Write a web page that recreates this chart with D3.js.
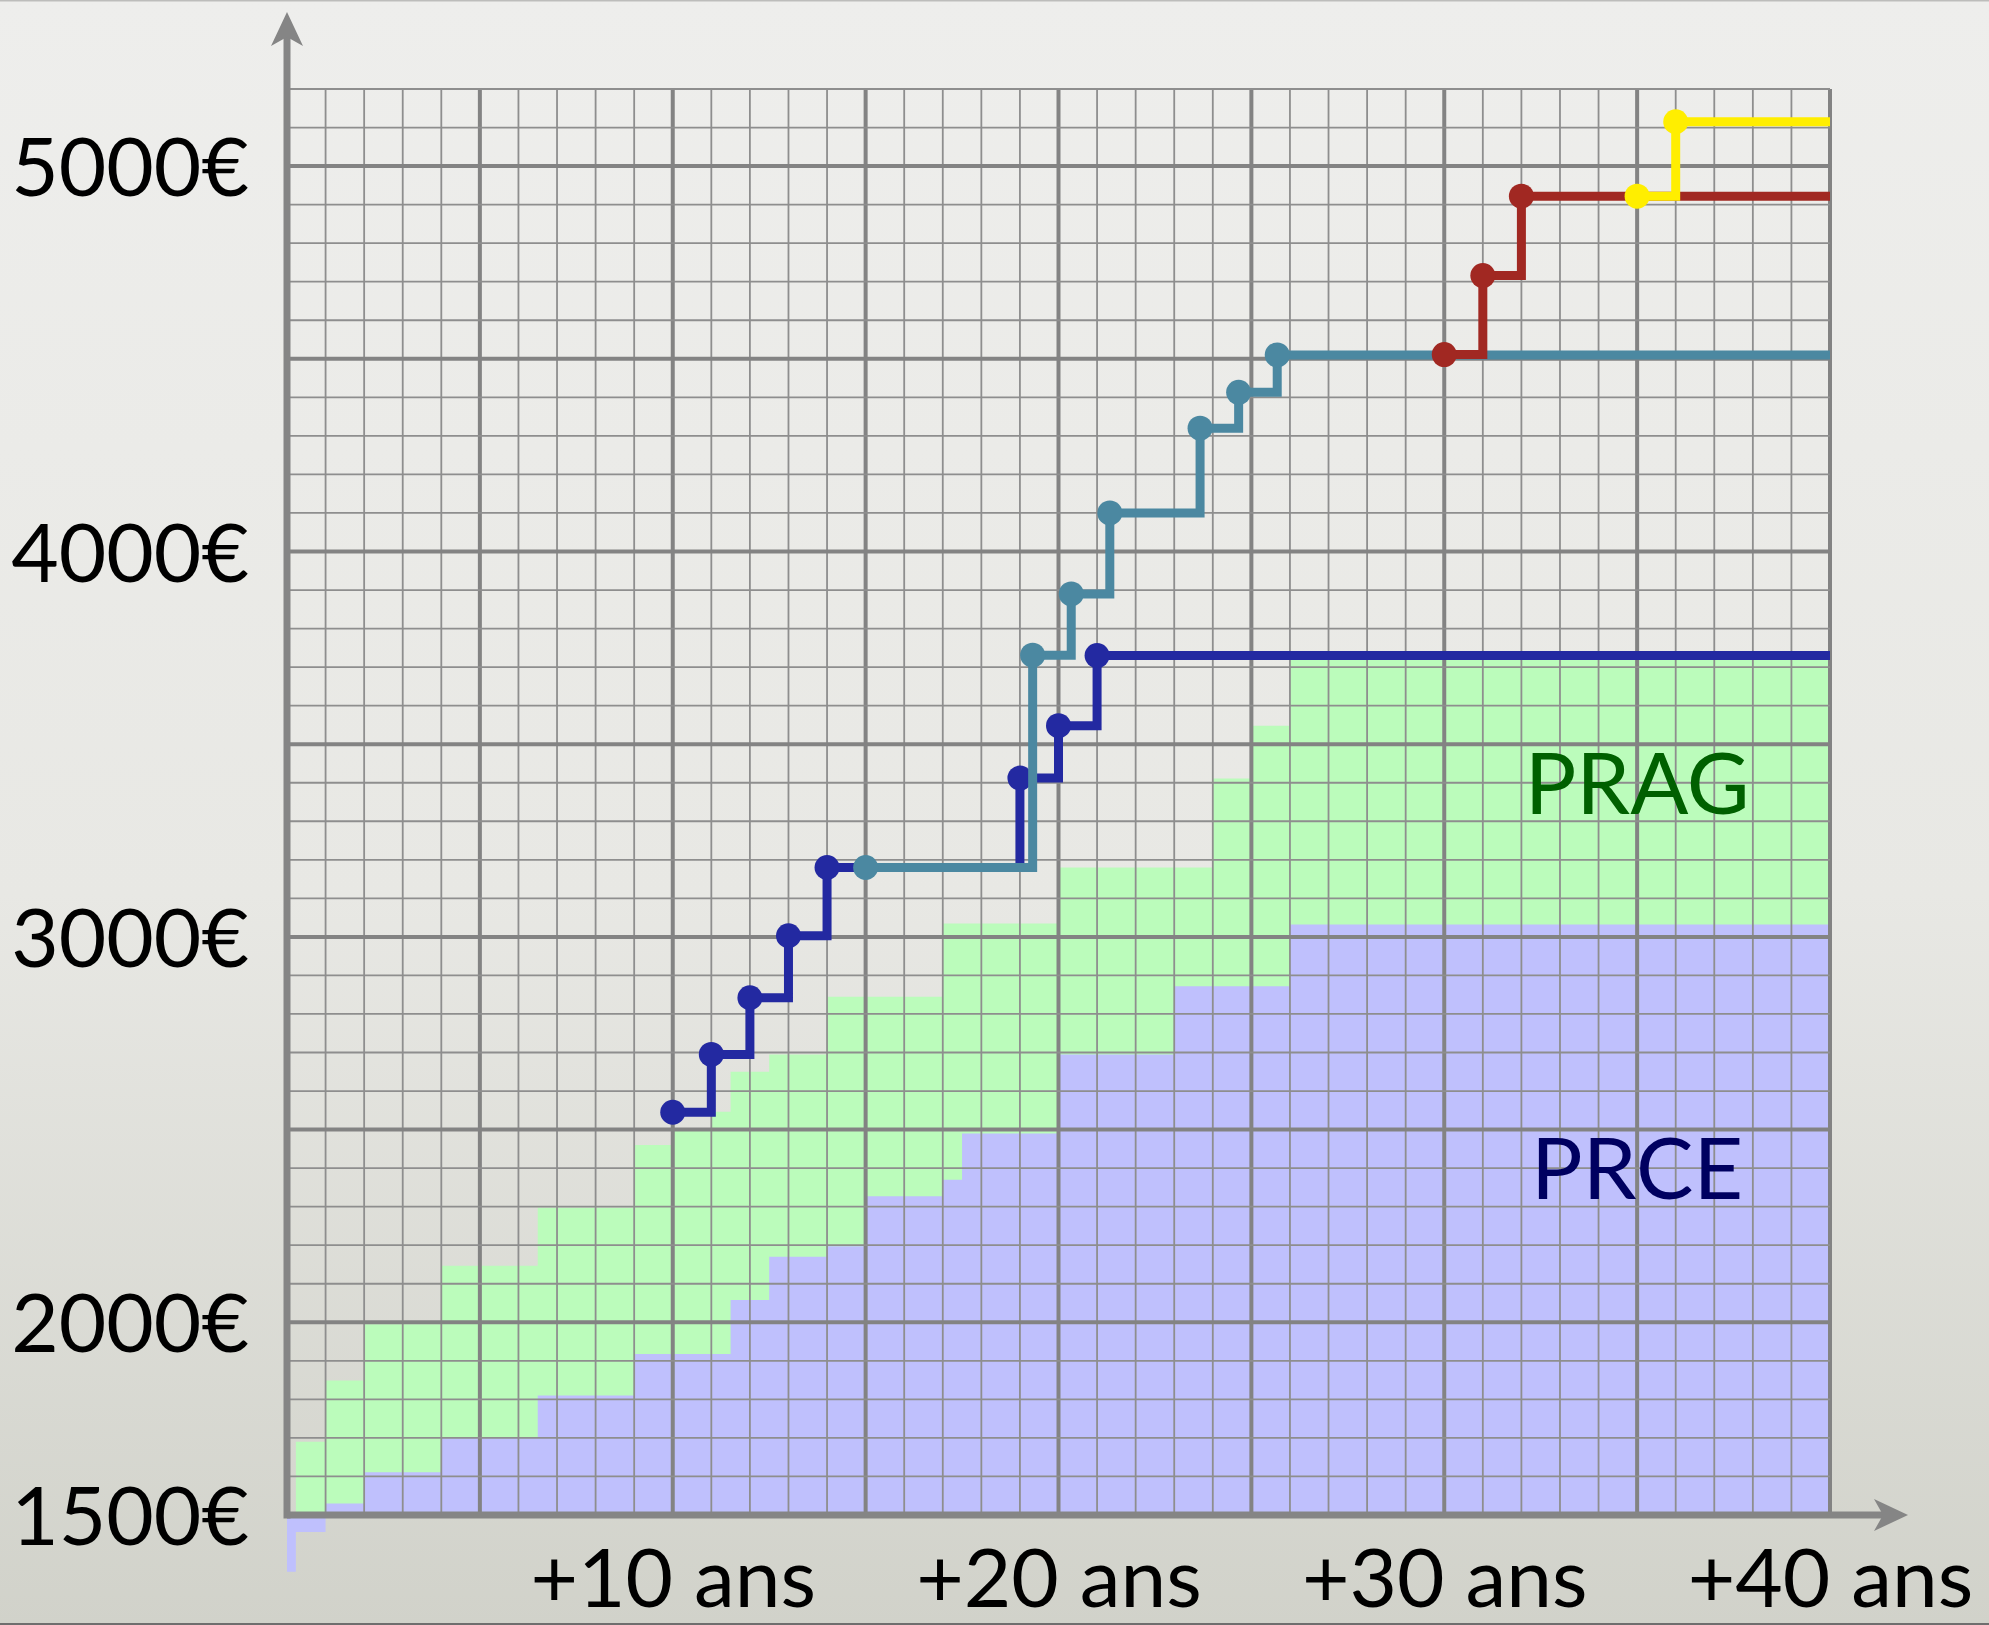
<!DOCTYPE html>
<html>
<head>
<meta charset="utf-8">
<script src="https://cdnjs.cloudflare.com/ajax/libs/d3/7.8.5/d3.min.js"></script>
<style>
  html, body { margin: 0; padding: 0; }
  body { width: 1989px; height: 1625px; overflow: hidden; }
</style>
</head>
<body>
<div id="chart"></div>
<script>
// PRCE band (violet) : year where each step starts, monthly salary
var prceYears  = [0, 1, 2, 4, 6.5, 9, 11.5, 12.5, 14, 15, 17, 17.5, 20, 23, 26];
var prceValues = [1500, 1530, 1611, 1700, 1810, 1918, 2058, 2170, 2197, 2327, 2370, 2490, 2695, 2872, 3032];
// bottom outline of the violet shape (it pokes out a bit under the x axis)
var prceTailYears  = [40, 1, 1, 0.23, 0.23, 0];
var prceTailValues = [1500, 1500, 1456, 1456, 1353, 1353];

// PRAG band (green)
var pragYears  = [0.23, 1, 2, 4, 6.5, 9, 10, 11, 11.5, 12.5, 14, 17, 20, 24, 25, 26];
var pragValues = [1690, 1849, 1995, 2147, 2297, 2460, 2498, 2546, 2650, 2695, 2845, 3035, 3180, 3411, 3548, 3722];

// step lines with dots
var navyYears  = [10, 11, 12, 13, 14, 19, 20, 21];
var navyValues = [2545, 2695, 2842, 3003, 3180, 3412, 3548, 3730];
var tealYears  = [15, 19.33, 20.33, 21.33, 23.67, 24.67, 25.67];
var tealValues = [3180, 3731, 3890, 4100, 4320, 4413, 4510];
var redYears   = [30, 31, 32];
var redValues  = [4511, 4716, 4922];
var yellowYears  = [35, 36];
var yellowValues = [4922, 5115];

// tick labels
var yTicks = [1500, 2000, 3000, 4000, 5000];
var xTicks = [10, 20, 30, 40];

var width = 1989;
var height = 1625;

var x = d3.scaleLinear().domain([0, 40]).range([287, 1830]);
var y = d3.scaleLinear().domain([1500, 5200]).range([1515, 89]);

function zip(xs, ys) {
  return xs.map(function(d, i) { return [d, ys[i]]; });
}

var svg = d3.select("#chart")
  .append("svg")
  .attr("width", width)
  .attr("height", height);

// background, light paper with darker bottom
var defs = svg.append("defs");
var bg = defs.append("linearGradient")
  .attr("id", "bg")
  .attr("x1", 0).attr("y1", 0).attr("x2", 0).attr("y2", 1);
bg.append("stop").attr("offset", "0%").attr("stop-color", "#eeeeec");
bg.append("stop").attr("offset", "55%").attr("stop-color", "#e8e8e4");
bg.append("stop").attr("offset", "100%").attr("stop-color", "#d1d2ca");

svg.append("rect")
  .attr("width", width)
  .attr("height", height)
  .attr("fill", "url(#bg)");
svg.append("rect")
  .attr("width", width).attr("height", 1.5)
  .attr("fill", "#bdbdbb");
svg.append("rect")
  .attr("y", height - 2).attr("width", width).attr("height", 2)
  .attr("fill", "#6e6e6e");

var stepLine = d3.line()
  .curve(d3.curveStepAfter)
  .x(function(d) { return x(d[0]); })
  .y(function(d) { return y(d[1]); });

var plainLine = d3.line()
  .x(function(d) { return x(d[0]); })
  .y(function(d) { return y(d[1]); });

// green band, from the axis up
var pragPts = zip(pragYears, pragValues);
pragPts.push([40, pragValues[pragValues.length - 1]]);
var pragArea = d3.area()
  .curve(d3.curveStepAfter)
  .x(function(d) { return x(d[0]); })
  .y0(y(1500))
  .y1(function(d) { return y(d[1]); });

svg.append("path")
  .attr("d", pragArea(pragPts))
  .attr("fill", "#bbfcbb");

// violet band on top of it
var prcePts = zip(prceYears, prceValues);
prcePts.push([40, prceValues[prceValues.length - 1]]);
var prcePath = stepLine(prcePts) + plainLine(zip(prceTailYears, prceTailValues)).replace(/^M/, "L") + "Z";

svg.append("path")
  .attr("d", prcePath)
  .attr("fill", "#bfc0fd");

// grid
var grid = svg.append("g").attr("class", "grid");

grid.selectAll(".vline")
  .data(d3.range(1, 41))
  .enter().append("line")
  .attr("class", "vline")
  .attr("x1", function(d) { return x(d); })
  .attr("x2", function(d) { return x(d); })
  .attr("y1", y(5200))
  .attr("y2", y(1500))
  .style("stroke", function(d) { return d % 5 == 0 ? "#838383" : "#8e8e8e"; })
  .style("stroke-width", function(d) { return d % 5 == 0 ? 4 : 1.8; });

grid.selectAll(".hline")
  .data(d3.range(1600, 5201, 100))
  .enter().append("line")
  .attr("class", "hline")
  .attr("x1", x(0))
  .attr("x2", x(40))
  .attr("y1", function(d) { return y(d); })
  .attr("y2", function(d) { return y(d); })
  .style("stroke", function(d) { return d % 500 == 0 ? "#838383" : "#8e8e8e"; })
  .style("stroke-width", function(d) { return d % 500 == 0 ? 4 : 1.8; });

// axes with arrows
var axisColor = "#858585";
svg.append("line")
  .attr("x1", x(0)).attr("x2", 1886)
  .attr("y1", y(1500)).attr("y2", y(1500))
  .style("stroke", axisColor)
  .style("stroke-width", 7);
svg.append("line")
  .attr("x1", x(0)).attr("x2", x(0))
  .attr("y1", y(1500) + 3.5).attr("y2", 36)
  .style("stroke", axisColor)
  .style("stroke-width", 7);

var ax0 = x(0), ay0 = y(1500);
svg.append("path")
  .attr("d", "M" + ax0 + ",12 L" + (ax0 + 16) + ",46 L" + ax0 + ",37 L" + (ax0 - 16) + ",46 Z")
  .attr("fill", axisColor);
svg.append("path")
  .attr("d", "M1908," + ay0 + " L1874," + (ay0 - 16) + " L1883," + ay0 + " L1874," + (ay0 + 16) + " Z")
  .attr("fill", axisColor);

// tick labels through d3 axes (no lines)
var yAxis = svg.append("g")
  .attr("transform", "translate(" + x(0) + ",0)")
  .call(d3.axisLeft(y)
    .tickValues(yTicks)
    .tickSize(0)
    .tickPadding(38)
    .tickFormat(function(d) { return d + "€"; }));

var xAxis = svg.append("g")
  .attr("transform", "translate(0," + y(1500) + ")")
  .call(d3.axisBottom(x)
    .tickValues(xTicks)
    .tickSize(0)
    .tickPadding(34)
    .tickFormat(function(d) { return "+" + d + " ans"; }));

[yAxis, xAxis].forEach(function(g) {
  g.select(".domain").remove();
  g.attr("font-family", "Lato, 'Open Sans', sans-serif")
    .attr("font-size", 82);
  g.selectAll("text").attr("fill", "#000");
});
yAxis.selectAll("text").attr("dy", "0.36em");

// band names
svg.append("text")
  .attr("x", x(35))
  .attr("y", y(3320))
  .attr("text-anchor", "middle")
  .attr("font-family", "Lato, 'Open Sans', sans-serif")
  .attr("font-size", 86)
  .attr("fill", "#006000")
  .text("PRAG");

svg.append("text")
  .attr("x", x(35))
  .attr("y", y(2320))
  .attr("text-anchor", "middle")
  .attr("font-family", "Lato, 'Open Sans', sans-serif")
  .attr("font-size", 86)
  .attr("fill", "#000060")
  .text("PRCE");

// step lines, drawn in this order so later ones sit on top
var series = [
  { years: navyYears, values: navyValues, color: "#2329a1" },
  { years: tealYears, values: tealValues, color: "#4b88a1" },
  { years: redYears, values: redValues, color: "#a12822" },
  { years: yellowYears, values: yellowValues, color: "#ffee00" }
];

series.forEach(function(s) {
  var pts = zip(s.years, s.values);
  var linePts = pts.concat([[40, s.values[s.values.length - 1]]]);

  svg.append("path")
    .attr("d", stepLine(linePts))
    .attr("fill", "none")
    .style("stroke", s.color)
    .style("stroke-width", 9)
    .style("stroke-linejoin", "miter")
    .style("stroke-linecap", "butt");

  svg.selectAll(null)
    .data(pts)
    .enter().append("circle")
    .attr("cx", function(d) { return x(d[0]); })
    .attr("cy", function(d) { return y(d[1]); })
    .attr("r", 12.5)
    .style("fill", s.color);
});
</script>
</body>
</html>
